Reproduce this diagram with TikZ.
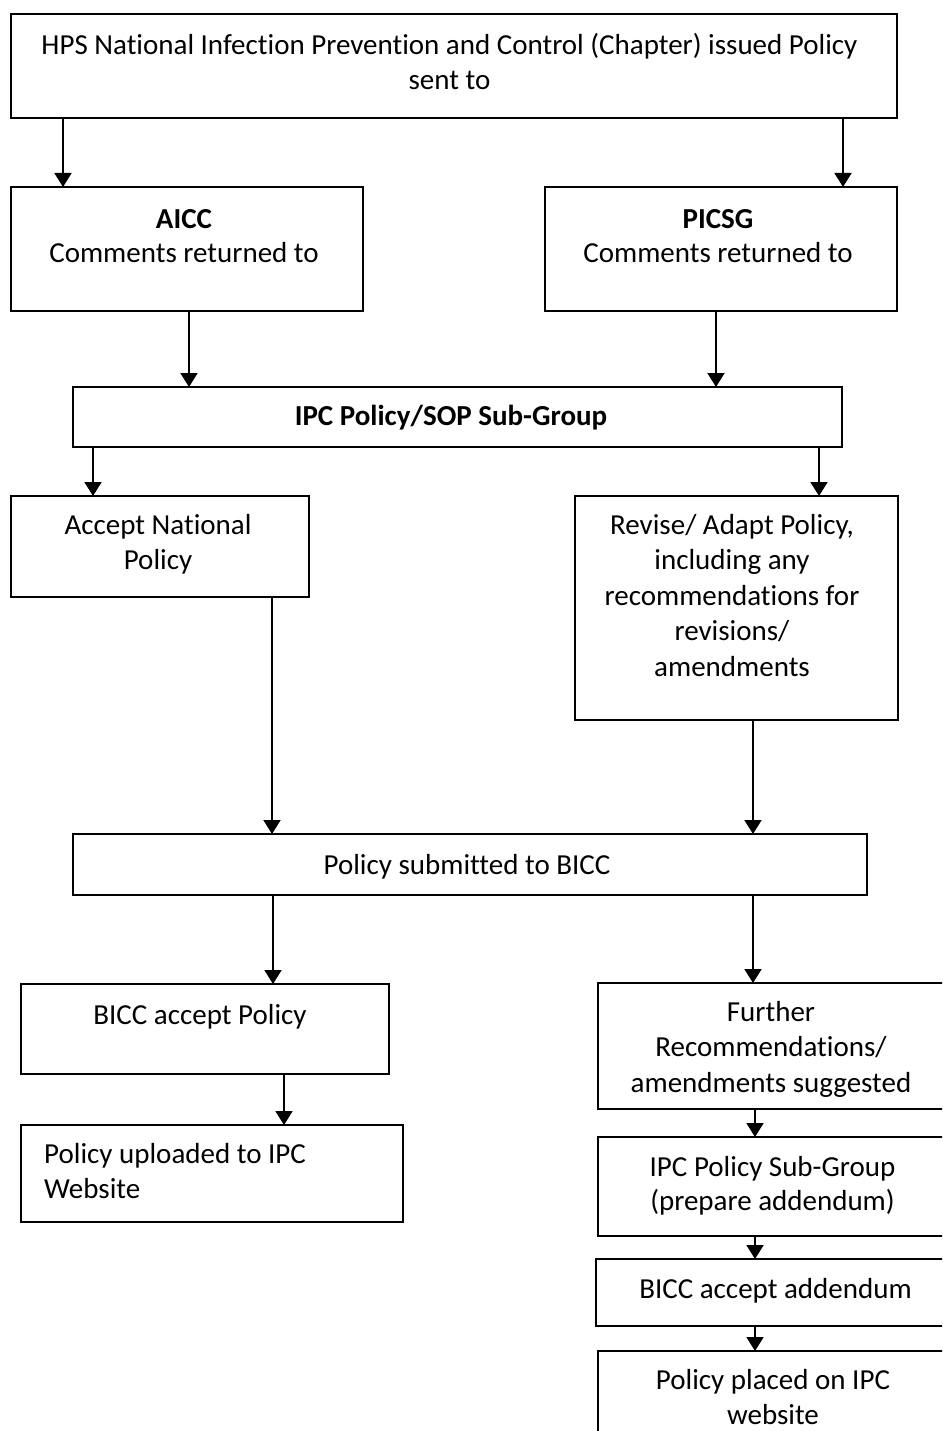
\documentclass[tikz,border=0pt]{standalone}
\usepackage{fontspec}
\setmainfont{Carlito}[RawFeature={-liga;-calt;-clig;-dlig}]
\usetikzlibrary{arrows.meta}
\newcommand\fstrut{\rule{0pt}{25pt}}
\begin{document}
\begin{tikzpicture}[x=1pt,y=-1pt,
  box/.style={draw=black, line width=1.9pt, inner sep=0pt, outer sep=0pt, fill=white},
  txt/.style={inner sep=0pt, anchor=north, align=center, font=\fontsize{29}{35.5}\selectfont},
  arr/.style={line width=1.8pt, -{Triangle[width=17pt,length=14pt]}}]
\useasboundingbox (0,0) rectangle (942,1431);
\fill[white] (0,0) rectangle (942,1431);
\clip (0,0) rectangle (942,1431);
% boxes
\node[box, minimum width=886pt, minimum height=104pt] (top) at (454,66) {};
\node[box, minimum width=352pt, minimum height=124pt] (aicc) at (187,249) {};
\node[box, minimum width=352pt, minimum height=124pt] (picsg) at (721,249) {};
\node[box, minimum width=769pt, minimum height=60pt] (ipc) at (457.5,417) {};
\node[box, minimum width=298pt, minimum height=101pt] (accept) at (160,546.5) {};
\node[box, minimum width=323pt, minimum height=224pt] (revise) at (736.5,608) {};
\node[box, minimum width=794pt, minimum height=61pt] (submit) at (470,864.5) {};
\node[box, minimum width=368pt, minimum height=90pt] (biccacc) at (205,1029) {};
\node[box, minimum width=354pt, minimum height=126pt] (further) at (775,1046) {};
\node[box, minimum width=382pt, minimum height=97pt] (uploaded) at (212,1173.5) {};
\node[box, minimum width=354pt, minimum height=99pt] (ipcsub) at (775,1186.5) {};
\node[box, minimum width=356pt, minimum height=67pt] (addendum) at (774,1292.5) {};
\node[box, minimum width=354pt, minimum height=94pt] (placed) at (775,1398) {};
% texts
\node[txt] (ttop) at (449.5,29) {\fstrut HPS National Infection Prevention and Control (Chapter) issued Policy\\sent to};
\node[txt, font=\fontsize{29}{34}\selectfont] (taicc) at (184,203) {\fstrut\textbf{AICC}\\Comments returned to};
\node[txt, font=\fontsize{29}{34}\selectfont] (tpicsg) at (718,203) {\fstrut\textbf{PICSG}\\Comments returned to};
\node[txt] (tipc) at (451,400) {\fstrut\textbf{IPC Policy/SOP Sub-Group}};
\node[txt] (taccept) at (158,509) {\fstrut Accept National\\Policy};
\node[txt] (trevise) at (732,509) {\fstrut Revise/ Adapt Policy,\\including any\\recommendations for\\revisions/\\amendments};
\node[txt] (tsubmit) at (467,849) {\fstrut Policy submitted to BICC};
\node[txt] (tbiccacc) at (200,999) {\fstrut BICC accept Policy};
\node[txt] (tfurther) at (771,996) {\fstrut Further\\Recommendations/\\amendments suggested};
\node[txt, anchor=north west, align=left] (tuploaded) at (44,1138) {\fstrut Policy uploaded to IPC\\Website};
\node[txt, font=\fontsize{29}{34}\selectfont] (tipcsub) at (772.5,1151) {\fstrut IPC Policy Sub-Group\\(prepare addendum)};
\node[txt] (tadd) at (775.5,1273) {\fstrut BICC accept addendum};
\node[txt] (tplaced) at (773,1364) {\fstrut Policy placed on IPC\\website};
% connectors
\draw[arr] ([xshift=52pt]top.south west) -- ([xshift=52pt]aicc.north west);
\draw[arr] ([xshift=832pt]top.south west) -- ([xshift=298pt]picsg.north west);
\draw[arr] ([xshift=178pt]aicc.south west) -- ([xshift=116pt]ipc.north west);
\draw[arr] ([xshift=171pt]picsg.south west) -- ([xshift=643pt]ipc.north west);
\draw[arr] ([xshift=20pt]ipc.south west) -- ([xshift=82pt]accept.north west);
\draw[arr] ([xshift=746pt]ipc.south west) -- ([xshift=244pt]revise.north west);
\draw[arr] ([xshift=261pt]accept.south west) -- ([xshift=199pt]submit.north west);
\draw[arr] ([xshift=178pt]revise.south west) -- ([xshift=680pt]submit.north west);
\draw[arr] ([xshift=200pt]submit.south west) -- ([xshift=252pt]biccacc.north west);
\draw[arr] ([xshift=680pt]submit.south west) -- ([xshift=155pt]further.north west);
\draw[arr] ([xshift=263pt]biccacc.south west) -- ([xshift=263pt]uploaded.north west);
\draw[arr] ([xshift=157pt]further.south west) -- ([xshift=157pt]ipcsub.north west);
\draw[arr] ([xshift=157pt]ipcsub.south west) -- ([xshift=159pt]addendum.north west);
\draw[arr] ([xshift=159pt]addendum.south west) -- ([xshift=157pt]placed.north west);
\end{tikzpicture}
\end{document}
